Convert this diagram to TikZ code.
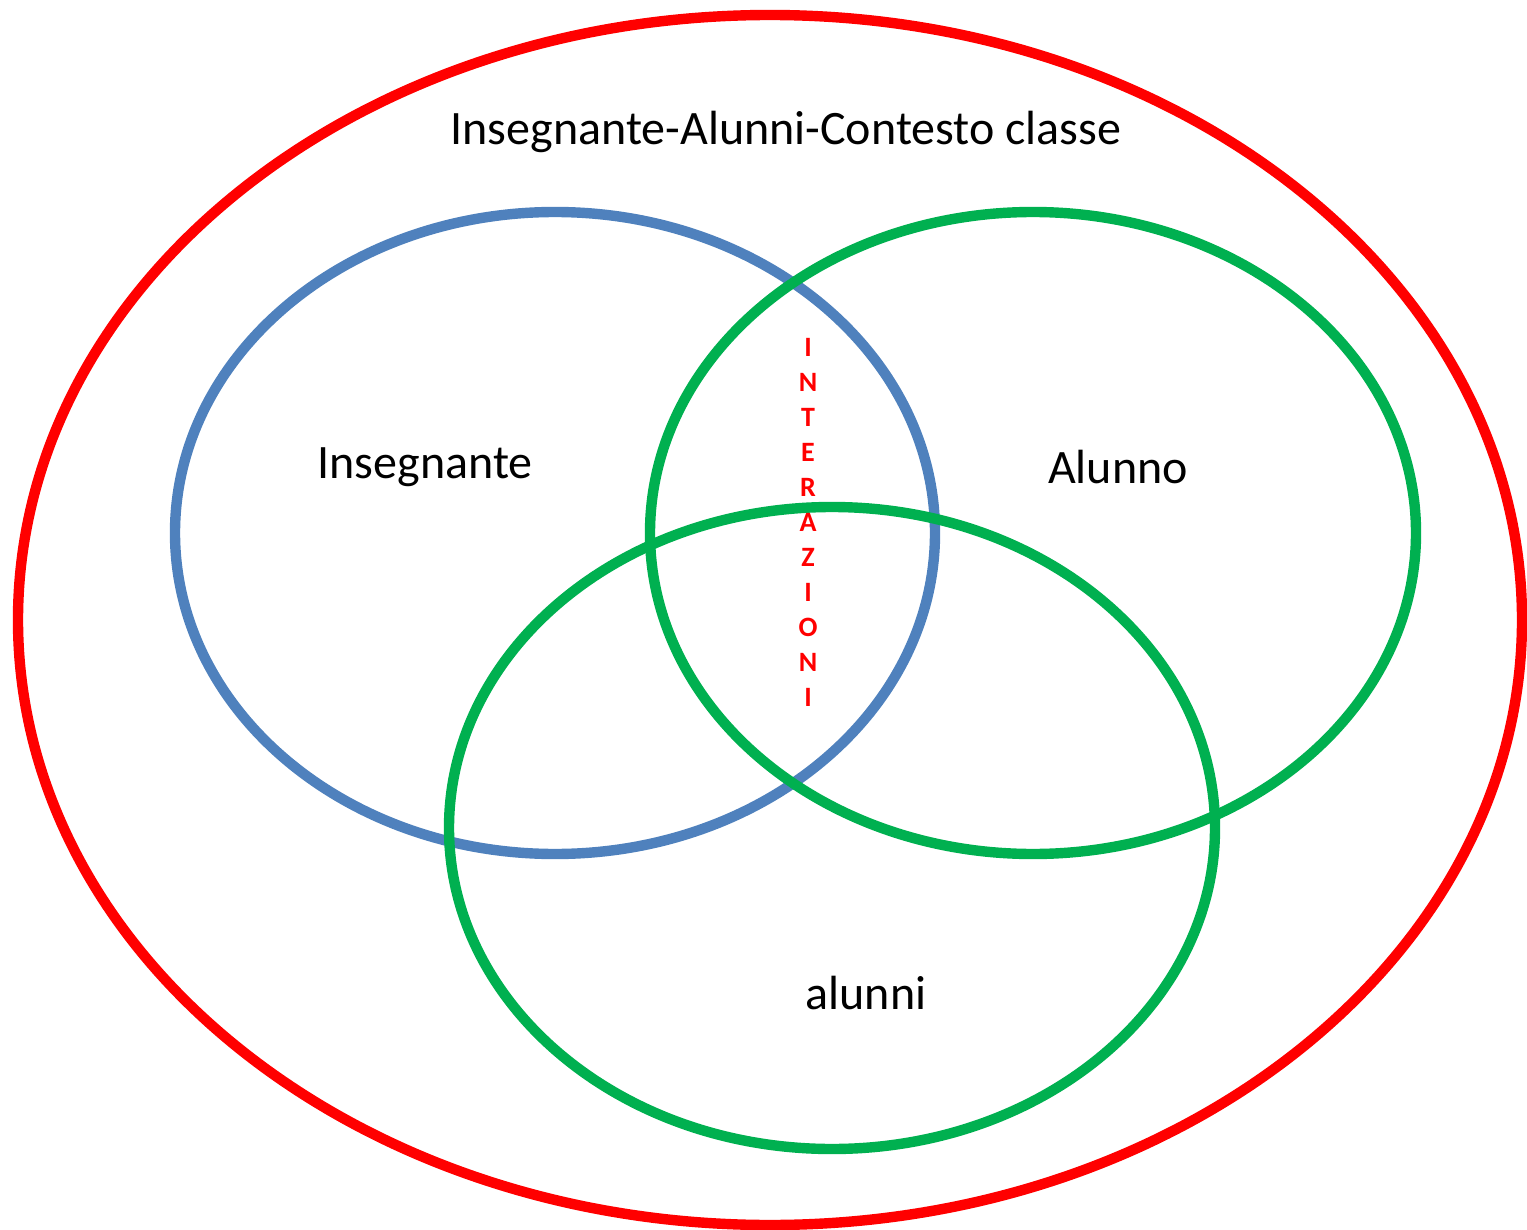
\documentclass[tikz,border=0pt]{standalone}
\usepackage{fontspec}
\setmainfont{Carlito}
\definecolor{venblue}{RGB}{79,129,189}
\definecolor{vengreen}{RGB}{0,176,80}
\tikzset{every picture/.style={line width=0.75pt}}
\begin{document}
\begin{tikzpicture}[x=0.75pt,y=0.75pt,yscale=-1,xscale=1]
	\useasboundingbox (0,0) rectangle (1527,1230);

	%Shape: Ellipse (contesto classe)
	\draw  [color=red, line width=7.8]  (770,620) ellipse (752 and 605);
	%Shape: Ellipse (insegnante)
	\draw  [color=venblue, line width=7.8]  (555,533) ellipse (380 and 321);
	%Shape: Ellipse (alunno)
	\draw  [color=vengreen, line width=7.8]  (1033,533) ellipse (383 and 321);
	%Shape: Ellipse (alunni)
	\draw  [color=vengreen, line width=7.8]  (832,828) ellipse (383 and 321);

	% Text Node
	\draw (786,132) node [font=\fontsize{36}{43}\selectfont] (title) {Insegnante-Alunni-Contesto classe};
	% Text Node
	\draw (425,467) node [font=\fontsize{36}{43}\selectfont] (ins) {Insegnante};
	% Text Node
	\draw (1118,467) node [font=\fontsize{36}{43}\selectfont] (alo) {Alunno};
	% Text Node
	\draw (866,993) node [font=\fontsize{36}{43}\selectfont] (ali) {alunni};
	% Text Node
	\draw (808,522) node [color=red, align=center, font=\fontsize{21}{26.25}\selectfont\bfseries] (inter) {I\\N\\T\\E\\R\\A\\Z\\I\\O\\N\\I};

\end{tikzpicture}
\end{document}
